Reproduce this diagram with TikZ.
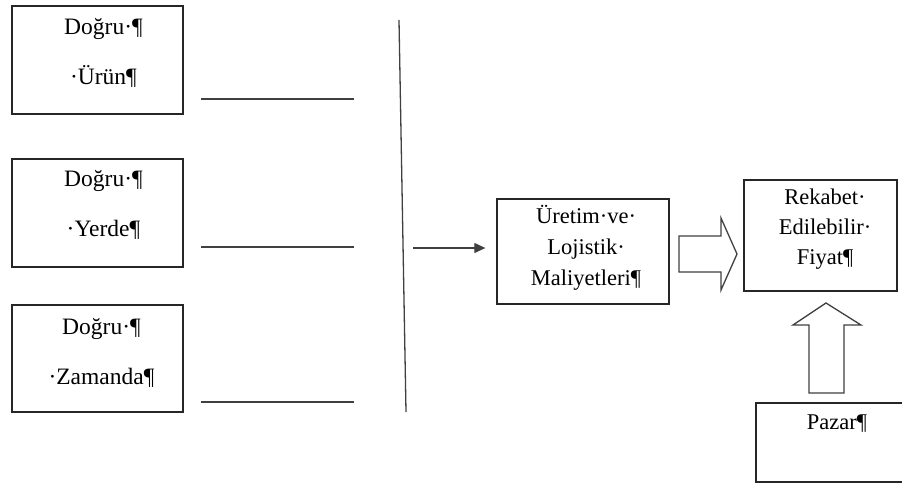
\documentclass[tikz,border=0pt]{standalone}
\usepackage{fontspec}
\setmainfont{Liberation Serif}
\usetikzlibrary{arrows.meta}
\begin{document}
\begin{tikzpicture}[x=1pt,y=-1pt,
  box/.style={draw=black!85, line width=1.3pt, rectangle, inner sep=0pt},
  txtwide/.style={align=center, font=\fontsize{23.5}{50}\selectfont, inner sep=0pt},
  txt/.style={align=center, font=\fontsize{22.5}{31}\selectfont, inner sep=0pt},
  link/.style={draw=black!75, line width=1.3pt},
  block/.style={draw=black!75, line width=1.3pt, fill=white, line join=miter}]
\useasboundingbox (0,0) rectangle (902,483);
\clip (0,0) rectangle (902,483);

% left column: the three "right" factors
\node[box, minimum width=171pt, minimum height=108pt] (b1) at (97.5,60) {};
\node[txtwide, xshift=6pt, yshift=7.5pt] (t1) at (b1.center) {Doğru·¶\\·Ürün¶};
\node[box, minimum width=171pt, minimum height=108pt] (b2) at (97.5,213) {};
\node[txtwide, xshift=6pt, yshift=8.5pt] (t2) at (b2.center) {Doğru·¶\\·Yerde¶};
\node[box, minimum width=171pt, minimum height=107pt] (b3) at (97.5,358.5) {};
\node[txtwide, xshift=4pt, yshift=6pt] (t3) at (b3.center) {Doğru·¶\\·Zamanda¶};

% horizontal leaders next to each box
\coordinate (l1s) at (201,99);  \coordinate (l1e) at (354,99);
\coordinate (l2s) at (201,247); \coordinate (l2e) at (354,247);
\coordinate (l3s) at (201,402); \coordinate (l3e) at (354,402);
\draw[link] (l1s) -- (l1e);
\draw[link] (l2s) -- (l2e);
\draw[link] (l3s) -- (l3e);

% collecting bar
\coordinate (vt) at (399,20);
\coordinate (vb) at (406,412);
\draw[link] (vt) -- (vb);

% cost box
\node[box, minimum width=172pt, minimum height=105pt] (u) at (583,251.5) {};
\node[txt, xshift=3pt, yshift=3.5pt] (tu) at (u.center) {Üretim·ve·\\Lojistik·\\Maliyetleri¶};

\coordinate (as) at (413,248);
\draw[link, line width=1.2pt, -{Triangle[length=11pt,width=10pt]}, shorten >=11pt] (as) -- (as -| u.west);

% price box
\node[box, minimum width=153pt, minimum height=111pt] (r) at (820.5,235.5) {};
\node[txt, font=\fontsize{22.5}{30}\selectfont, xshift=4.5pt, yshift=6pt] (tr) at (r.center) {Rekabet·\\Edilebilir·\\Fiyat¶};

% market box (runs past the right edge)
\node[box, minimum width=164pt, minimum height=79pt] (p) at (838,442.5) {};
\node[font=\fontsize{22.5}{26}\selectfont, inner sep=0pt, anchor=base] (tp) at (837,429) {Pazar¶};

% block arrows
\draw[block] (679,236) -- (721,236) -- (721,218) -- (737,254) -- (721,290)
  -- (721,272) -- (679,272) -- cycle;
\draw[block] (809,393) -- (809,325) -- (793,325) -- (826,303) -- (861,325)
  -- (844,325) -- (844,393) -- cycle;
\end{tikzpicture}
\end{document}
